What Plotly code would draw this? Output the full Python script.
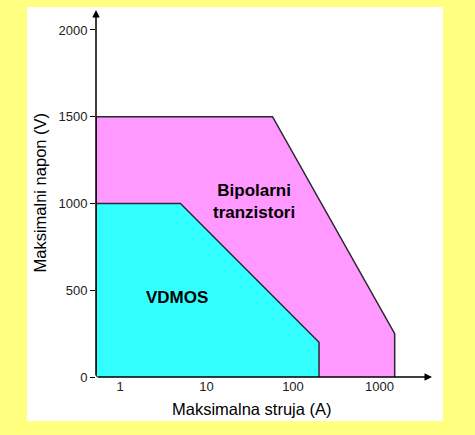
import math
import plotly.graph_objects as go

# safe operating areas (current in A, voltage in V)
x_start = 0.528
x_end = 4050
y_top = 2115

bip_struja = [x_start, x_start, 58, 1500, 1500]
bip_napon = [0, 1500, 1500, 250, 0]

vdmos_struja = [x_start, x_start, 5, 200, 200]
vdmos_napon = [0, 1000, 1000, 200, 0]

x_ticks = [1, 10, 100, 1000]
x_labels = ["1", "10", "100", "1000"]
y_ticks = [0, 500, 1000, 1500, 2000]

font = "Liberation Sans, Arial, sans-serif"
outline = "#2b2630"

fig = go.Figure()
fig.add_trace(go.Scatter(
    x=bip_struja, y=bip_napon, mode="lines", fill="toself",
    fillcolor="#ff99ff", line=dict(color=outline, width=1.5),
    hoverinfo="skip", showlegend=False,
))
fig.add_trace(go.Scatter(
    x=vdmos_struja, y=vdmos_napon, mode="lines", fill="toself",
    fillcolor="#33ffff", line=dict(color=outline, width=1.5),
    hoverinfo="skip", showlegend=False,
))

lx0, lx1 = math.log10(x_start), math.log10(x_end)

fig.update_layout(
    width=475, height=435,
    margin=dict(l=96, r=43, t=10, b=58),
    paper_bgcolor="#ffff80",
    plot_bgcolor="white",
    font=dict(family=font, color="#222222", size=13),
    xaxis=dict(
        type="log", range=[lx0, lx1], tickvals=x_ticks, ticktext=x_labels,
        ticks="", showgrid=False, zeroline=False, showline=False,
        tickfont=dict(size=13), automargin=False,
    ),
    yaxis=dict(
        range=[0, y_top], tickvals=y_ticks, ticks="outside", ticklen=5,
        tickcolor="black", tickwidth=1, showgrid=False, zeroline=False,
        showline=False, tickfont=dict(size=13), automargin=False,
    ),
    shapes=[dict(
        type="rect", xref="paper", yref="paper", layer="below",
        x0=-0.2054, x1=1.0327, y0=-0.1199, y1=1.0082,
        fillcolor="white", line=dict(width=0),
    )],
)

# axes drawn as arrows
fig.add_annotation(x=lx1, y=0, ax=lx0, ay=0, xref="x", yref="y", axref="x", ayref="y",
                   text="", showarrow=True, arrowhead=2, arrowsize=1, arrowwidth=1.5,
                   arrowcolor="black")
fig.add_annotation(x=lx0, y=y_top, ax=lx0, ay=0, xref="x", yref="y", axref="x", ayref="y",
                   text="", showarrow=True, arrowhead=2, arrowsize=1, arrowwidth=1.5,
                   arrowcolor="black")

# region labels
fig.add_annotation(x=math.log10(35), y=1009, text="<b>Bipolarni<br>tranzistori</b>",
                   showarrow=False, font=dict(size=17, color="black"))
fig.add_annotation(x=math.log10(4.56), y=461, text="<b>VDMOS</b>",
                   showarrow=False, font=dict(size=17, color="black"))

# axis titles
fig.add_annotation(x=0.464, y=-0.0872, xref="paper", yref="paper",
                   xanchor="center", yanchor="middle",
                   text="Maksimalna struja (A)", showarrow=False,
                   font=dict(size=16.5, color="black"))
fig.add_annotation(x=-0.1667, y=0.5027, xref="paper", yref="paper",
                   xanchor="center", yanchor="middle",
                   text="Maksimalni napon (V)", showarrow=False, textangle=-90,
                   font=dict(size=16.5, color="black"))

fig.write_html("out.html", config={"displayModeBar": False},
               post_script="document.body.style.margin='0';"
                           "document.body.style.background='#ffff80';")
